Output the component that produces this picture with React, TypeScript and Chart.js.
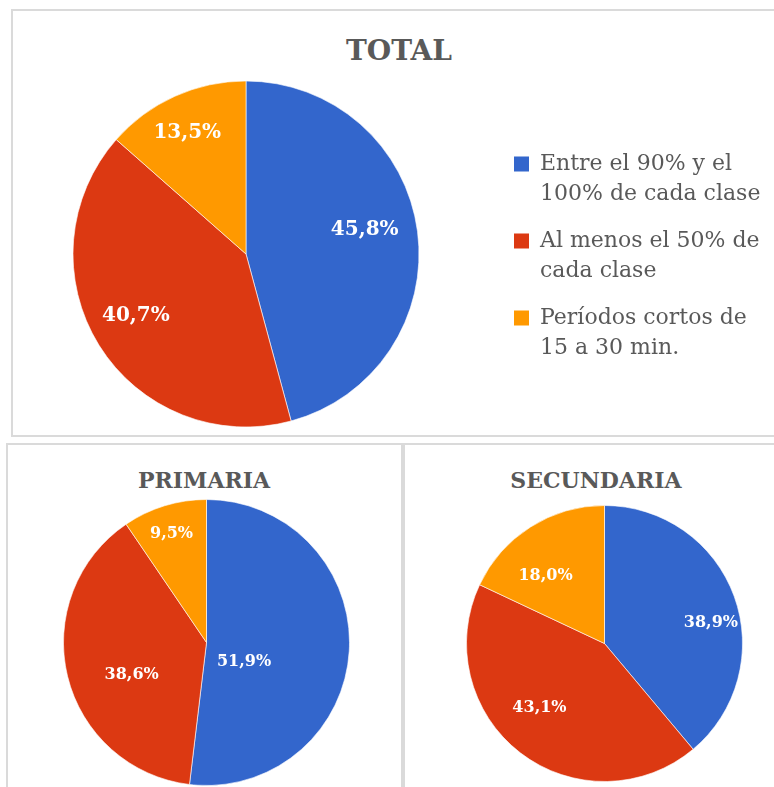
import React, { useEffect, useRef } from 'react';
import { Chart, registerables } from 'chart.js';

Chart.register(...registerables);

// ---------- data ----------
const categories: string[][] = [
  ['Entre el 90% y el', '100% de cada clase'],
  ['Al menos el 50% de', 'cada clase'],
  ['Períodos cortos de', '15 a 30 min.'],
];
const totalValues = [45.8, 40.7, 13.5];
const primariaValues = [51.9, 38.6, 9.5];
const secundariaValues = [38.9, 43.1, 18.0];
const sliceColors = ['#3366CC', '#DC3912', '#FF9900'];
const chartTitles = ['TOTAL', 'PRIMARIA', 'SECUNDARIA'];

// ---------- style ----------
const FONT = '"DejaVu Serif", "Liberation Serif", serif';
const TEXT = '#595959';
const BORDER = '2px solid #dadada';
const LEGEND_FONT_SIZE = 22;
const LEGEND_PAD = 17;
const LEGEND_BOX = 15;

const fmt = (v: number) => v.toFixed(1).replace('.', ',') + '%';

type LabelPos = { rf: number; da: number };

const sliceLabelPlugin = {
  id: 'sliceLabels',
  afterDatasetsDraw(chart: any, _args: any, opts: any) {
    const { ctx } = chart;
    const meta = chart.getDatasetMeta(0);
    const values = chart.data.datasets[0].data as number[];
    ctx.save();
    ctx.font = `bold ${opts.size}px ${FONT}`;
    ctx.fillStyle = '#ffffff';
    ctx.textAlign = 'center';
    ctx.textBaseline = 'middle';
    meta.data.forEach((arc: any, i: number) => {
      const p = arc.getProps(['x', 'y', 'startAngle', 'endAngle', 'outerRadius'], true);
      const pos: LabelPos = (opts.positions && opts.positions[i]) || { rf: 0.65, da: 0 };
      const mid = (p.startAngle + p.endAngle) / 2 + (pos.da * Math.PI) / 180;
      const r = p.outerRadius * pos.rf;
      ctx.fillText(fmt(values[i]), p.x + Math.cos(mid) * r, p.y + Math.sin(mid) * r);
    });
    ctx.restore();
  },
};

// width Chart.js will give a vertical legend for these labels
function legendWidth(): number {
  const c = document.createElement('canvas').getContext('2d') as CanvasRenderingContext2D;
  c.font = `${LEGEND_FONT_SIZE}px ${FONT}`;
  let maxW = 0;
  categories.forEach((lines) => {
    const longest = lines.reduce((a, b) => (a.length > b.length ? a : b));
    maxW = Math.max(maxW, c.measureText(longest).width);
  });
  return LEGEND_PAD + LEGEND_BOX + LEGEND_FONT_SIZE / 2 + maxW + 10;
}

type PieProps = {
  values: number[];
  left: number;
  top: number;
  width: number;
  height: number;
  padding: any;
  legendLeft?: number; // canvas x where the legend box starts
  labelSize: number;
  labelPos: LabelPos[];
};

function Pie(props: PieProps) {
  const ref = useRef<HTMLCanvasElement>(null);
  useEffect(() => {
    const baseGen = (Chart as any).overrides.doughnut.plugins.legend.labels.generateLabels;
    const hasLegend = props.legendLeft !== undefined;
    let padding = props.padding;
    if (hasLegend) {
      const lw = legendWidth();
      padding = { ...props.padding, right: Math.max(0, props.width - (props.legendLeft as number) - lw) };
    }
    const chart = new Chart(ref.current as HTMLCanvasElement, {
      type: 'pie',
      data: {
        labels: categories as any,
        datasets: [
          {
            data: props.values,
            backgroundColor: sliceColors,
            borderColor: 'rgba(255,255,255,0.6)',
            borderWidth: 1,
          },
        ],
      },
      options: {
        responsive: false,
        animation: false,
        events: [],
        layout: { padding },
        plugins: {
          title: { display: false },
          tooltip: { enabled: false },
          legend: hasLegend
            ? {
                display: true,
                position: 'right',
                align: 'center',
                title: { display: true, text: '', padding: 0, font: { size: 10, lineHeight: 1.2 } },
                labels: {
                  boxWidth: LEGEND_BOX,
                  boxHeight: LEGEND_BOX,
                  padding: LEGEND_PAD,
                  color: TEXT,
                  font: { family: FONT, size: LEGEND_FONT_SIZE, lineHeight: 30 / 22 },
                  generateLabels: (c: any) =>
                    baseGen(c).map((l: any) => ({ ...l, lineWidth: 0 })),
                },
              }
            : { display: false },
          sliceLabels: { size: props.labelSize, positions: props.labelPos },
        } as any,
      },
      plugins: [sliceLabelPlugin as any],
    });
    return () => chart.destroy();
  }, []);
  return (
    <canvas
      ref={ref}
      width={props.width}
      height={props.height}
      style={{
        position: 'absolute',
        left: props.left,
        top: props.top,
        width: props.width,
        height: props.height,
      }}
    />
  );
}

function Title({ text, cx, top, size }: { text: string; cx: number; top: number; size: number }) {
  return (
    <div
      style={{
        position: 'absolute',
        left: cx - 150,
        top,
        width: 300,
        textAlign: 'center',
        fontFamily: FONT,
        fontWeight: 'bold',
        fontSize: size,
        lineHeight: `${size}px`,
        color: TEXT,
        whiteSpace: 'nowrap',
      }}
    >
      {text}
    </div>
  );
}

export default function App() {
  return (
    <div
      style={{
        position: 'absolute',
        left: 0,
        top: 0,
        width: 774,
        height: 787,
        overflow: 'hidden',
        background: '#ffffff',
      }}
    >
      <div
        style={{ position: 'absolute', left: 11, top: 9, width: 800, height: 428, border: BORDER, boxSizing: 'border-box' }}
      />
      <div
        style={{ position: 'absolute', left: 6, top: 443, width: 397, height: 400, border: BORDER, boxSizing: 'border-box' }}
      />
      <div
        style={{ position: 'absolute', left: 403, top: 443, width: 400, height: 400, border: BORDER, boxSizing: 'border-box' }}
      />

      <Title text={chartTitles[0]} cx={399} top={37} size={28} />
      <Title text={chartTitles[1]} cx={204} top={469} size={22} />
      <Title text={chartTitles[2]} cx={596} top={469} size={22} />

      <Pie
        values={totalValues}
        left={-20}
        top={11}
        width={809}
        height={424}
        padding={{ left: 15, right: 0, top: 69.5, bottom: 7.5 }}
        legendLeft={517}
        labelSize={20}
        labelPos={[
          { rf: 0.7, da: -3.8 },
          { rf: 0.73, da: 2.6 },
          { rf: 0.78, da: -1.5 },
        ]}
      />
      <Pie
        values={primariaValues}
        left={63}
        top={499}
        width={287}
        height={287}
        padding={0}
        labelSize={16}
        labelPos={[
          { rf: 0.295, da: 23.7 },
          { rf: 0.57, da: -9.7 },
          { rf: 0.795, da: -0.8 },
        ]}
      />
      <Pie
        values={secundariaValues}
        left={466}
        top={505}
        width={277}
        height={277}
        padding={0}
        labelSize={16}
        labelPos={[
          { rf: 0.785, da: 9.1 },
          { rf: 0.664, da: 7.6 },
          { rf: 0.653, da: -8.5 },
        ]}
      />
    </div>
  );
}
